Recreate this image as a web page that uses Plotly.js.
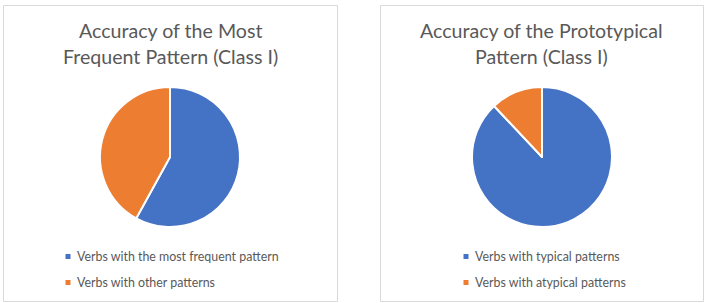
<!DOCTYPE html>
<html>
<head>
<meta charset="utf-8">
<script src="https://cdn.plot.ly/plotly-3.0.1.min.js"></script>
<style>
  html, body { margin: 0; padding: 0; background: #fff; }
  #chart { width: 708px; height: 303px; }
</style>
</head>
<body>
<div id="chart"></div>
<script>
// ---- data ----
const leftTitle = ["Accuracy of the Most", "Frequent Pattern (Class I)"];
const leftLabels = ["Verbs with the most frequent pattern", "Verbs with other patterns"];
const leftValues = [58, 42];

const rightTitle = ["Accuracy of the Prototypical", "Pattern (Class I)"];
const rightLabels = ["Verbs with typical patterns", "Verbs with atypical patterns"];
const rightValues = [88, 12];

const sliceColors = ["#4472C4", "#ED7D31"];

// ---- layout helpers (pixel -> paper) ----
const W = 708, H = 303;
const px = x => x / W;
const py = y => 1 - y / H;

const FONT = "Lato, 'Open Sans', sans-serif";
const TEXT = "#595959";

const panels = [
  { box: [3, 5, 337, 301], cx: 170, cy: 157, r: 70, title: leftTitle, labels: leftLabels, values: leftValues, legX: 68, textX: 75 },
  { box: [380, 5, 703, 301], cx: 542, cy: 157, r: 70, title: rightTitle, labels: rightLabels, values: rightValues, legX: 466, textX: 473 }
];

const traces = [];
const shapes = [];
const annotations = [];
const titleY = [30.5, 56];
const legY = [256.5, 282.5];

panels.forEach(p => {
  traces.push({
    type: "pie",
    labels: p.labels,
    values: p.values,
    sort: false,
    direction: "clockwise",
    rotation: 0,
    textinfo: "none",
    hoverinfo: "label+percent",
    marker: { colors: sliceColors, line: { color: "#ffffff", width: 2 } },
    domain: { x: [px(p.cx - p.r), px(p.cx + p.r)], y: [py(p.cy + p.r), py(p.cy - p.r)] },
    showlegend: false
  });
  shapes.push({
    type: "rect", xref: "paper", yref: "paper",
    x0: px(p.box[0] + 0.5), x1: px(p.box[2] + 0.5), y0: py(p.box[3] + 0.5), y1: py(p.box[1] + 0.5),
    line: { color: "#D9D9D9", width: 1 }, fillcolor: "rgba(0,0,0,0)"
  });
  p.title.forEach((t, i) => {
    annotations.push({
      xref: "paper", yref: "paper", x: px((p.box[0] + p.box[2]) / 2), y: py(titleY[i]),
      xanchor: "center", yanchor: "middle", showarrow: false, text: t,
      font: { family: FONT, size: 19.6, color: TEXT }
    });
  });
  p.labels.forEach((l, i) => {
    shapes.push({
      type: "rect", xref: "paper", yref: "paper",
      x0: px(p.legX - 2.5), x1: px(p.legX + 2.5), y0: py(legY[i] + 2.5), y1: py(legY[i] - 2.5),
      line: { width: 0 }, fillcolor: sliceColors[i]
    });
    annotations.push({
      xref: "paper", yref: "paper", x: px(p.textX), y: py(legY[i]),
      xanchor: "left", yanchor: "middle", showarrow: false, text: l,
      font: { family: FONT, size: 12.4, color: TEXT }
    });
  });
});

const layout = {
  width: W, height: H,
  margin: { l: 0, r: 0, t: 0, b: 0 },
  paper_bgcolor: "#ffffff",
  plot_bgcolor: "#ffffff",
  showlegend: false,
  shapes: shapes,
  annotations: annotations
};

Plotly.newPlot("chart", traces, layout, { displayModeBar: false, staticPlot: true });
</script>
</body>
</html>
